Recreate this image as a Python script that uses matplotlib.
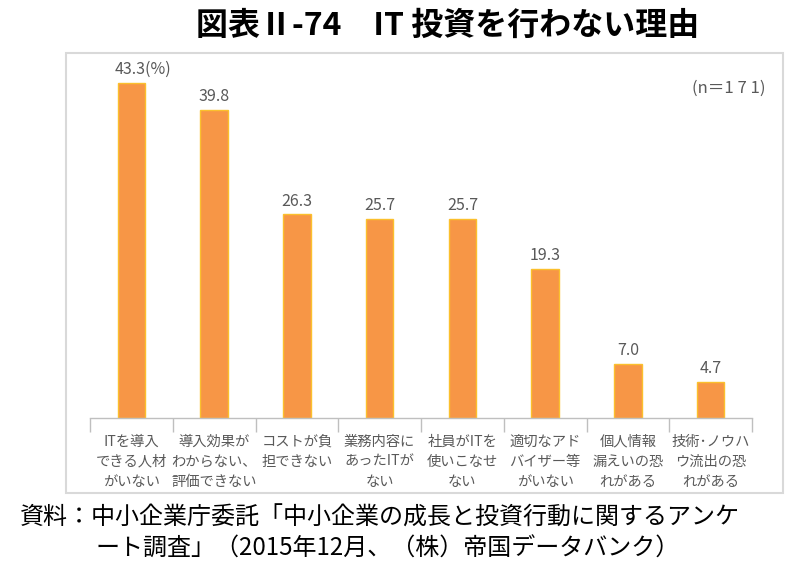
import matplotlib
matplotlib.use('Agg')
import matplotlib.pyplot as plt
from matplotlib.patches import Rectangle
import numpy as np

plt.rcParams['font.family'] = ['Noto Sans CJK JP', 'DejaVu Sans']

# data
categories = ['ITを導入\nできる人材\nがいない', '導入効果が\nわからない、\n評価できない',
              'コストが負\n担できない', '業務内容に\nあったITが\nない', '社員がITを\n使いこなせ\nない',
              '適切なアド\nバイザー等\nがいない', '個人情報\n漏えいの恐\nれがある', '技術･ノウハ\nウ流出の恐\nれがある']
values = [43.3, 39.8, 26.3, 25.7, 25.7, 19.3, 7.0, 4.7]
value_labels = ['43.3(%)', '39.8', '26.3', '25.7', '25.7', '19.3', '7.0', '4.7']

fig = plt.figure(figsize=(8, 5.78), dpi=100)

# light gray frame around the chart area
fig.patches.append(Rectangle((66 / 800, 1 - 493 / 578), (783 - 66) / 800, (493 - 53) / 578,
                             transform=fig.transFigure, fill=False,
                             edgecolor='#d9d9d9', linewidth=1.5))

ax = fig.add_axes([90 / 800, 1 - 418 / 578, 662 / 800, 356 / 578])
x = np.arange(len(values))
bars = ax.bar(x, values, width=0.33, color='#f79646', edgecolor='#fbc02d', linewidth=1.0)

for xi, v, lab in zip(x, values, value_labels):
    if lab.endswith('(%)'):
        ax.text(xi - 0.2, v + 0.6, lab, ha='left', va='bottom', fontsize=11.5, color='#595959')
    else:
        ax.text(xi, v + 0.6, lab, ha='center', va='bottom', fontsize=11.5, color='#595959')

ax.set_xlim(-0.5, len(values) - 0.5)
ax.set_ylim(0, 46)
for s in ['top', 'right', 'left']:
    ax.spines[s].set_visible(False)
ax.spines['bottom'].set_color('#bfbfbf')
ax.spines['bottom'].set_linewidth(1.0)
ax.set_yticks([])

ax.set_xticks(x)
ax.set_xticklabels(categories, fontsize=10.3, color='#595959', linespacing=1.55, va='top')
ax.tick_params(axis='x', which='major', length=0, pad=12)
ax.set_xticks(np.arange(-0.5, len(values), 1), minor=True)
ax.tick_params(axis='x', which='minor', length=10, color='#bfbfbf', width=1.0)

fig.text(765 / 800, 1 - 88 / 578, '(n＝1 7 1)', ha='right', va='center', fontsize=12, color='#595959')

fig.text(448 / 800, 1 - 26 / 578, '図表Ⅱ-74　IT 投資を行わない理由', ha='center', va='center',
         fontsize=23, fontweight='bold', color='black')

fig.text(20 / 800, 1 - 518 / 578, '資料：中小企業庁委託「中小企業の成長と投資行動に関するアンケ',
         ha='left', va='center', fontsize=17.3, color='black')
fig.text(95 / 800, 1 - 549 / 578, 'ート調査」（2015年12月、（株）帝国データバンク）',
         ha='left', va='center', fontsize=17.3, color='black')

fig.savefig('out.png', dpi=100)
